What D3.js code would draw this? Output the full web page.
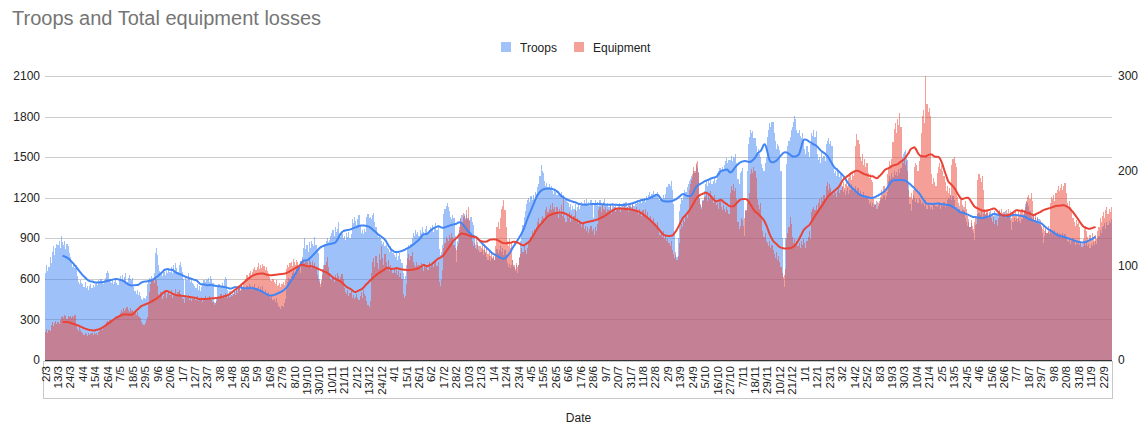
<!DOCTYPE html>
<html><head><meta charset="utf-8">
<script src="https://cdn.jsdelivr.net/npm/d3@7"></script>
<style>body{margin:0;background:#fff}svg{display:block}text{font-family:"Liberation Sans",Arial,sans-serif}</style>
</head><body><svg id="c" width="1145" height="429"></svg>
<script>
const title = "Troops and Total equipment losses";
const seriesNames = ["Troops", "Equipment"];
const xTitle = "Date";
const startDate = "2023-03-02";
const tickLabels = ["2/3","13/3","24/3","4/4","15/4","26/4","7/5","18/5","29/5","9/6","20/6","1/7","12/7","23/7","3/8","14/8","25/8","5/9","16/9","27/9","8/10","19/10","30/10","10/11","21/11","2/12","13/12","24/12","4/1","15/1","26/1","6/2","17/2","28/2","10/3","21/3","1/4","12/4","23/4","4/5","15/5","26/5","6/6","17/6","28/6","9/7","20/7","31/7","11/8","22/8","2/9","13/9","24/9","5/10","16/10","27/10","7/11","18/11","29/11","10/12","21/12","1/1","12/1","23/1","3/2","14/2","25/2","8/3","19/3","30/3","10/4","21/4","2/5","13/5","24/5","4/6","15/6","26/6","7/7","18/7","29/7","9/8","20/8","31/8","11/9","22/9"];
const leftTicks = [0,300,600,900,1200,1500,1800,2100];
const rightTicks = [0,100,200,300];

// daily troop losses, one row per 11 days
const troops = [
640,700,660,690,760,720,800,840,780,830,860,
850,880,830,919,870,850,880,820,860,840,790,
760,720,690,710,680,700,620,580,560,590,570,
560,540,575,530,550,520,545,560,530,555,540,
560,580,555,590,570,600,575,560,590,610,640,
660,640,600,570,590,560,580,600,570,555,590,
620,600,630,590,615,640,580,610,625,600,590,
610,540,510,490,520,480,500,470,450,440,460,
450,470,560,580,610,600,620,590,640,790,830,
780,700,660,640,620,670,650,630,660,640,680,
650,690,640,700,660,720,680,650,700,727,690,
650,600,480,620,590,640,610,580,600,570,560,
550,530,560,520,545,510,540,560,590,575,600,
590,610,580,620,600,570,430,420,450,540,560,
560,550,570,545,590,616,600,520,490,510,480,
500,490,520,510,540,530,550,520,560,540,530,
540,520,550,530,560,545,520,550,540,565,530,
530,550,510,540,520,545,500,520,490,480,500,
470,460,480,440,450,430,460,420,400,390,380,
400,390,420,450,520,580,610,600,620,640,660,
640,620,670,650,690,640,700,760,830,900,820,
850,800,870,830,880,860,840,912,850,810,790,
600,542,580,650,700,860,880,900,870,890,920,
940,960,920,980,950,970,1022,940,910,930,900,
920,890,940,910,950,900,930,1040,1010,1057,1030,
1000,1040,1072,990,940,960,930,970,950,1060,1080,
1050,1060,1040,1070,1089,1020,980,940,910,930,900,
880,860,870,840,850,830,820,800,840,810,790,
780,760,800,740,770,790,750,720,640,600,620,
700,820,850,830,860,900,940,920,960,930,950,
920,960,940,980,950,930,970,990,940,960,980,
970,1000,950,980,1010,960,990,820,780,800,850,
1080,1120,1140,1161,1130,1100,1060,1040,1070,1050,920,
727,880,940,960,1040,1070,1060,1080,1050,1075,1040,
1050,1030,1060,1020,1000,900,850,820,870,840,800,
800,820,780,810,790,760,740,770,730,760,750,
760,740,780,820,790,810,840,800,830,780,810,
780,720,690,710,680,700,740,690,660,700,643,
700,760,880,950,1000,1060,1100,1150,1180,1200,1170,
1210,1180,1220,1190,1240,1230,1280,1300,1360,1442,1400,
1380,1320,1290,1310,1280,1300,1270,1290,1250,1230,1260,
1240,1220,1250,1230,1210,1240,1200,1220,1180,1190,1170,
1160,1130,1150,1110,1140,1120,1150,1100,1130,1160,1120,
1140,1170,1150,1180,1160,1190,1150,1170,1140,1180,1160,
1050,1160,1180,1150,1170,1140,1180,1160,1150,1170,1190,
1150,1140,1160,1130,1150,1120,1160,1140,1130,1150,1120,
1140,1160,1130,1150,1120,1160,1140,1170,1130,1150,1140,
1150,1130,1160,1140,1170,1150,1180,1160,1170,1190,1160,
1180,1200,1170,1210,1190,1220,1240,1210,1230,1250,1220,
1230,1210,1240,1200,1180,1200,1190,1220,1200,1230,1280,
1280,1300,1290,1320,1260,1150,950,780,764,900,1100,
1150,1200,1180,1220,1260,1240,1280,1300,1320,1340,1360,
1350,1400,1380,1440,1420,1390,1200,1150,1130,1180,1250,
1300,1320,1290,1330,1310,1340,1300,1320,1350,1310,1330,
1380,1400,1420,1390,1430,1410,1440,1470,1490,1460,1480,
1480,1510,1470,1500,1490,1520,1460,1340,1300,1380,1400,
1420,1200,920,1100,1400,1600,1650,1700,1680,1690,1640,
1640,1580,1540,1560,1520,1500,1450,1420,1400,1460,1500,
1650,1700,1750,1720,1760,1762,1680,1620,1560,1600,1580,
1550,1400,900,600,542,900,1450,1580,1620,1650,1700,
1720,1760,1804,1780,1700,1680,1700,1660,1640,1680,1620,
1560,1520,1580,1540,1500,1600,1680,1660,1700,1650,1690,
1520,1480,1500,1460,1540,1490,1510,1470,1600,1620,1640,
1600,1620,1580,1420,1380,1400,1360,1420,1390,1350,1380,
1280,1240,1260,1220,1250,1270,1230,1260,1300,1280,1250,
1260,1290,1240,1270,1220,1250,1230,1210,1240,1200,1220,
1200,1180,1150,1170,1140,1160,1130,1150,1120,1170,1140,
1150,1180,1200,1190,1220,1180,1210,1240,1320,1360,1340,
1380,1350,1400,1370,1390,1360,1410,1380,1420,1500,1520,
1540,1553,1500,1480,1300,1150,1100,1180,1220,1200,1170,
1190,1160,1200,1180,1150,1170,1160,1140,1180,1120,1150,
1140,1120,1130,1110,1150,1160,1140,1130,1170,1150,1120,
1160,1140,1170,1130,1150,1180,1200,1190,1220,1180,1210,
1180,1110,1130,1100,1120,1140,1090,1110,1130,1100,1050,
1020,990,1040,980,1010,960,940,887,1000,1060,1080,
1090,1070,1100,1060,1080,1110,1070,1090,1060,1080,1100,
1070,1090,1060,1100,1080,1070,1090,1100,1080,1060,1090,
1080,1100,1070,1090,1060,1080,1100,961,1020,1050,1030,
1040,1020,1050,1030,1010,1040,1060,1100,1150,1170,1160,
1140,1100,1060,1040,1070,1030,1050,1020,1060,1040,1000,
980,940,862,920,960,940,950,930,960,940,950,
940,960,930,950,920,940,930,910,940,920,930,
900,880,870,890,860,880,900,870,850,880,860,
870,850,880,860,840,870,850,880,840,860,830,
860,840,870,850,880,860,900,920,960,940,980,
990,1010,970,1020,1000,1030,1010,1040
];

// daily total equipment losses, one row per 11 days
const equipment = [
30,33,28,32,31,37,40,36,39,41,38,
40,38,42,45,47,44,48,46,43,47,45,
46,44,47,45,48,38,33,31,35,32,30,
28,26,29,27,25,28,26,27,29,26,28,
27,29,26,30,31,33,32,35,34,38,40,
41,39,42,40,43,41,44,42,46,45,48,
50,53,51,55,52,54,56,53,51,55,52,
53,50,52,48,51,47,45,44,40,38,37,
39,42,45,60,72,80,83,85,81,88,84,
78,70,66,72,64,68,71,74,66,70,73,
69,74,66,71,68,75,70,72,74,70,68,
66,64,60,68,65,69,63,66,62,67,64,
65,63,68,62,66,64,67,61,65,68,63,
66,64,68,65,63,61,58,60,62,64,66,
66,70,67,69,65,71,68,66,70,67,69,
68,70,72,69,74,71,76,73,78,75,80,
82,86,90,88,92,94,89,93,96,98,95,
98,102,96,100,97,101,99,95,98,94,92,
88,85,83,86,82,80,84,78,79,81,77,
80,82,79,84,96,100,98,102,104,99,107,
104,100,106,103,98,105,101,107,104,102,106,
104,100,108,103,97,105,99,102,96,90,86,
82,80,84,90,96,100,104,109,98,92,86,
85,88,82,90,87,92,89,84,88,91,86,
76,72,70,74,68,71,73,66,69,64,67,
70,65,63,68,72,66,74,70,68,62,58,
56,62,92,104,108,98,110,102,96,112,106,
120,108,100,112,104,98,106,94,100,96,92,
96,92,98,90,94,88,92,86,70,65,68,
80,108,112,106,110,114,104,100,98,103,99,
100,96,102,98,94,101,97,99,95,103,98,
100,104,98,102,106,99,103,82,78,84,95,
118,124,130,128,126,132,129,134,130,122,118,
116,120,124,140,150,146,155,152,148,158,150,
162,148,130,126,120,124,118,128,122,116,120,
118,122,116,120,114,118,112,116,110,114,108,
110,106,120,140,146,138,150,160,163,169,158,
140,126,120,128,118,124,106,100,96,102,98,
100,108,112,118,114,120,116,112,118,124,126,
130,136,132,138,134,140,146,150,144,148,152,
150,146,158,162,156,160,164,158,166,160,162,
156,162,150,160,154,164,152,172,150,146,152,
150,156,146,154,148,152,158,146,150,144,148,
146,140,144,138,142,136,140,134,138,142,136,
138,132,140,136,144,158,162,156,164,160,158,
162,156,160,158,164,154,160,158,162,156,160,
158,162,156,160,164,158,166,160,162,156,164,
162,158,166,160,156,162,158,154,160,156,152,
158,154,160,152,156,150,148,152,146,150,144,
144,140,146,136,132,134,130,136,128,132,126,
128,124,120,126,116,112,108,114,106,110,124,
138,144,140,148,146,152,150,156,180,186,190,
196,204,200,208,210,198,170,164,160,168,172,
172,176,168,174,170,178,172,166,174,168,164,
166,160,168,162,158,164,160,156,162,158,154,
176,184,180,186,178,182,170,146,138,142,150,
148,142,150,158,166,170,176,196,202,198,204,
200,192,170,164,160,166,150,136,130,134,126,
124,120,126,118,122,116,112,108,114,106,110,
104,98,92,88,90,96,128,134,140,151,144,
130,124,128,122,126,120,124,118,126,122,128,
124,118,126,130,136,128,156,160,162,158,164,
158,166,170,164,172,168,174,170,184,188,180,
186,182,176,174,180,176,172,178,182,176,180,
184,188,182,186,190,184,192,196,190,198,194,
200,226,239,232,228,214,210,218,206,212,204,
208,198,192,196,190,188,170,164,168,160,166,
168,172,180,176,184,178,182,196,204,210,206,
212,230,244,250,240,255,248,261,246,212,208,
214,206,210,200,180,172,176,170,180,204,208,
206,200,210,216,240,258,264,250,300,270,262,
266,258,196,186,192,188,184,198,204,208,202,
206,200,194,188,178,184,176,182,174,206,212,
214,208,204,172,166,160,170,164,158,162,168,
160,152,146,140,148,142,138,146,150,144,190,
196,192,188,194,180,160,154,158,150,156,152,
150,146,152,144,148,142,150,158,154,160,152,
156,150,158,152,160,154,148,150,156,152,158,
154,150,158,152,156,160,154,158,162,168,172,
174,170,176,168,152,148,154,146,150,144,148,
142,138,144,136,140,134,142,138,166,172,170,
174,168,176,180,184,178,182,186,180,184,187,
176,166,160,168,162,158,150,146,142,148,144,
146,140,124,119,128,138,142,136,130,126,132,
128,134,130,126,132,128,136,140,150,146,152,
156,150,158,162,154,160,156,162
];

const colors = {troops:"#4285f4", equipment:"#ea4335"};
const N = troops.length;
const parse = d3.timeParse("%Y-%m-%d");
const fmt = d3.timeFormat("%-d/%-m");
const categories = d3.range(N).map(i => fmt(d3.timeDay.offset(parse(startDate), i)));

const svg = d3.select("#c");
const L = 45, R = 1112, T = 76, B = 360;
const x = d3.scaleBand().domain(d3.range(N)).range([L, R]).padding(0);
const yL = d3.scaleLinear().domain([0, 2100]).range([B, T]);
const yR = d3.scaleLinear().domain([0, 300]).range([B, T]);

svg.append("rect").attr("width",1145).attr("height",429).attr("fill","#fff");

// title
svg.append("text").attr("x",12).attr("y",25).attr("font-size",20).attr("fill","#757575").text(title);

// legend
const lg = [{n:seriesNames[0], c:colors.troops, x:501}, {n:seriesNames[1], c:colors.equipment, x:574}];
lg.forEach(d => {
  svg.append("rect").attr("x",d.x).attr("y",42).attr("width",10).attr("height",10).attr("fill",d.c).attr("fill-opacity",0.5);
  svg.append("text").attr("x",d.x+19).attr("y",51.5).attr("font-size",12).attr("fill","#222").text(d.n);
});

// gridlines
svg.append("g").selectAll("line").data(leftTicks.filter(d=>d>0)).join("line")
  .attr("x1",L).attr("x2",R).attr("y1",d=>Math.round(yL(d))+0.5).attr("y2",d=>Math.round(yL(d))+0.5)
  .attr("stroke","#ccc").attr("stroke-width",1);

// left and right axis labels
svg.append("g").selectAll("text").data(leftTicks).join("text")
  .attr("x",40).attr("y",d=>yL(d)).attr("dy","0.35em").attr("text-anchor","end")
  .attr("font-size",12).attr("fill","#222").text(d=>d);
svg.append("g").selectAll("text").data(rightTicks).join("text")
  .attr("x",1118).attr("y",d=>yR(d)).attr("dy","0.35em").attr("text-anchor","start")
  .attr("font-size",12).attr("fill","#222").text(d=>d);

// bars
svg.append("g").attr("opacity",0.5).attr("shape-rendering","crispEdges")
  .selectAll("rect").data(troops).join("rect")
  .attr("x",(d,i)=>x(i)).attr("width",x.bandwidth()).attr("y",d=>yL(d)).attr("height",d=>B-yL(d))
  .attr("fill",colors.troops);
svg.append("g").attr("opacity",0.5).attr("shape-rendering","crispEdges")
  .selectAll("rect").data(equipment).join("rect")
  .attr("x",(d,i)=>x(i)).attr("width",x.bandwidth()).attr("y",d=>yR(d)).attr("height",d=>B-yR(d))
  .attr("fill",colors.equipment);

// baseline
svg.append("line").attr("x1",L).attr("x2",R).attr("y1",360.5).attr("y2",360.5).attr("stroke","#333");

// centered 30-day moving averages
function movAvg(arr){
  const out=[];
  for(let i=15;i<=arr.length-15;i++){ out.push([i, d3.mean(arr.slice(i-15,i+15))]); }
  return out;
}
const cx = i => x(i)+x.bandwidth()/2;
svg.append("path").datum(movAvg(troops)).attr("fill","none").attr("stroke",colors.troops).attr("stroke-width",2)
  .attr("d", d3.line().x(d=>cx(d[0])).y(d=>yL(d[1])).curve(d3.curveBasis));
svg.append("path").datum(movAvg(equipment)).attr("fill","none").attr("stroke",colors.equipment).attr("stroke-width",2)
  .attr("d", d3.line().x(d=>cx(d[0])).y(d=>yR(d[1])).curve(d3.curveBasis));

// x axis labels box
svg.append("rect").attr("x",43.5).attr("y",361.5).attr("width",1069).attr("height",37).attr("fill","none").attr("stroke","#c8c8c8");
svg.append("g").selectAll("text").data(tickLabels).join("text")
  .attr("transform",(d,k)=>`translate(${cx(k*11)},366) rotate(-90)`)
  .attr("text-anchor","end").attr("dy","0.35em").attr("font-size",11.5).attr("fill","#222").text(d=>d);

svg.append("text").attr("x",(L+R)/2).attr("y",422).attr("text-anchor","middle").attr("font-size",12).attr("fill","#222").text(xTitle);
</script></body></html>
